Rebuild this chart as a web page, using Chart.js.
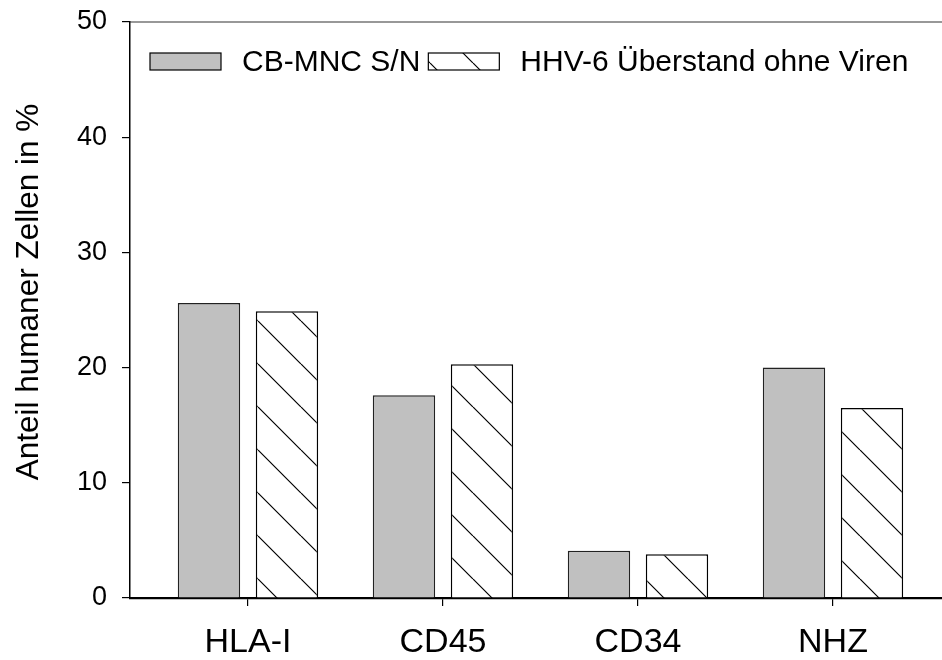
<!DOCTYPE html>
<html>
<head>
    <title>Anteil humaner Zellen</title>
    <script src="https://cdn.jsdelivr.net/npm/chart.js"></script>
    <style>
        body { margin: 0; background: #fff; }
    </style>
</head>
<body>

<canvas id="cells_chart" width="942" height="660"></canvas>

<script>
const categories = ['HLA-I', 'CD45', 'CD34', 'NHZ'];
const cbMncValues = [25.6, 17.6, 4.1, 20.0];
const hhvValues = [24.9, 20.3, 3.8, 16.5];
const seriesNames = ['CB-MNC S/N', 'HHV-6 Überstand ohne Viren'];
const yTicks = [0, 10, 20, 30, 40, 50];
const yTitle = 'Anteil humaner Zellen in %';

const FONT = "'Liberation Sans', Arial, sans-serif";

function makeHatch(ctx) {
    const s = 43;
    const c = document.createElement('canvas');
    c.width = s; c.height = s;
    const g = c.getContext('2d');
    g.fillStyle = '#fff';
    g.fillRect(0, 0, s, s);
    g.strokeStyle = '#000';
    g.lineWidth = 1.2;
    g.beginPath();
    for (const o of [-s, 0, s]) { g.moveTo(o, 0); g.lineTo(o + s, s); }
    g.stroke();
    const p = ctx.createPattern(c, 'repeat');
    p.setTransform(new DOMMatrix([1, 0, 0, 1, 0, 20]));
    return p;
}

// top frame line, y title and legend inside the plot area
const framePlugin = {
    id: 'frameAndLegend',
    afterDraw(chart) {
        const { ctx, chartArea } = chart;
        ctx.save();
        ctx.strokeStyle = '#333';
        ctx.lineWidth = 1.2;
        ctx.beginPath();
        ctx.moveTo(chartArea.left, chartArea.top);
        ctx.lineTo(chartArea.right, chartArea.top);
        ctx.stroke();

        // y axis title, sits a bit above the plot centre like the original
        ctx.save();
        ctx.translate(29, (chartArea.top + chartArea.bottom) / 2 - 18);
        ctx.rotate(-Math.PI / 2);
        ctx.font = '31.5px ' + FONT;
        ctx.textAlign = 'center';
        ctx.textBaseline = 'middle';
        ctx.fillStyle = '#000';
        ctx.fillText(yTitle, 0, 0);
        ctx.restore();

        ctx.font = '30px ' + FONT;
        ctx.textBaseline = 'middle';
        let x = chartArea.left + 20;
        const y = 53, w = 71, h = 17;
        chart.data.datasets.forEach(ds => {
            ctx.fillStyle = ds.backgroundColor;
            ctx.fillRect(x, y, w, h);
            ctx.strokeStyle = '#000';
            ctx.lineWidth = 1.2;
            ctx.strokeRect(x, y, w, h);
            ctx.fillStyle = '#000';
            ctx.fillText(ds.label, x + w + 21, y + h / 2 + 1);
            x += w + 21 + ctx.measureText(ds.label).width + 8;
        });
        ctx.restore();
    }
};

document.addEventListener('DOMContentLoaded', function() {
    const ctx = document.getElementById('cells_chart').getContext('2d');
    const hatch = makeHatch(ctx);

    new Chart(ctx, {
        type: 'bar',
        data: {
            datasets: [{
                label: seriesNames[0],
                data: cbMncValues.map((v, i) => ({ x: i + 1, y: v })),
                backgroundColor: '#c0c0c0',
                borderColor: '#222',
                borderWidth: 1.5
            }, {
                label: seriesNames[1],
                data: hhvValues.map((v, i) => ({ x: i + 1, y: v })),
                backgroundColor: hatch,
                borderColor: '#000',
                borderWidth: 1.5
            }]
        },
        options: {
            responsive: false,
            animation: false,
            layout: { padding: { top: 22, right: 0, left: 0, bottom: 0 } },
            datasets: {
                bar: { categoryPercentage: 0.8, barPercentage: 0.8 }
            },
            scales: {
                x: {
                    type: 'linear',
                    min: 0.395,
                    max: 4.559,
                    offset: false,
                    afterBuildTicks: scale => {
                        scale.ticks = categories.map((c, i) => ({ value: i + 1 }));
                    },
                    afterFit: scale => {
                        scale.height = 62;
                        scale.paddingLeft = 0;
                        scale.paddingRight = 0;
                    },
                    ticks: {
                        autoSkip: false,
                        maxRotation: 0,
                        padding: 16,
                        color: '#000',
                        font: { family: FONT, size: 34 },
                        callback: v => categories[v - 1]
                    },
                    grid: {
                        offset: false,
                        drawOnChartArea: false,
                        tickLength: 8,
                        color: '#000',
                        lineWidth: 1.2
                    },
                    border: { color: '#000', width: 2.2 }
                },
                y: {
                    min: 0,
                    max: 50,
                    afterBuildTicks: scale => {
                        scale.ticks = yTicks.map(v => ({ value: v }));
                    },
                    afterFit: scale => {
                        scale.width = 130;
                        scale.paddingTop = 0;
                        scale.paddingBottom = 0;
                    },
                    ticks: {
                        padding: 15,
                        color: '#000',
                        font: { family: FONT, size: 27 }
                    },
                    grid: {
                        drawOnChartArea: false,
                        tickLength: 8,
                        color: '#000',
                        lineWidth: 1.2
                    },
                    border: { color: '#000', width: 1.5 },
                    title: { display: false }
                }
            },
            plugins: {
                legend: { display: false },
                tooltip: { enabled: false }
            }
        },
        plugins: [framePlugin]
    });
});
</script>

</body>
</html>
